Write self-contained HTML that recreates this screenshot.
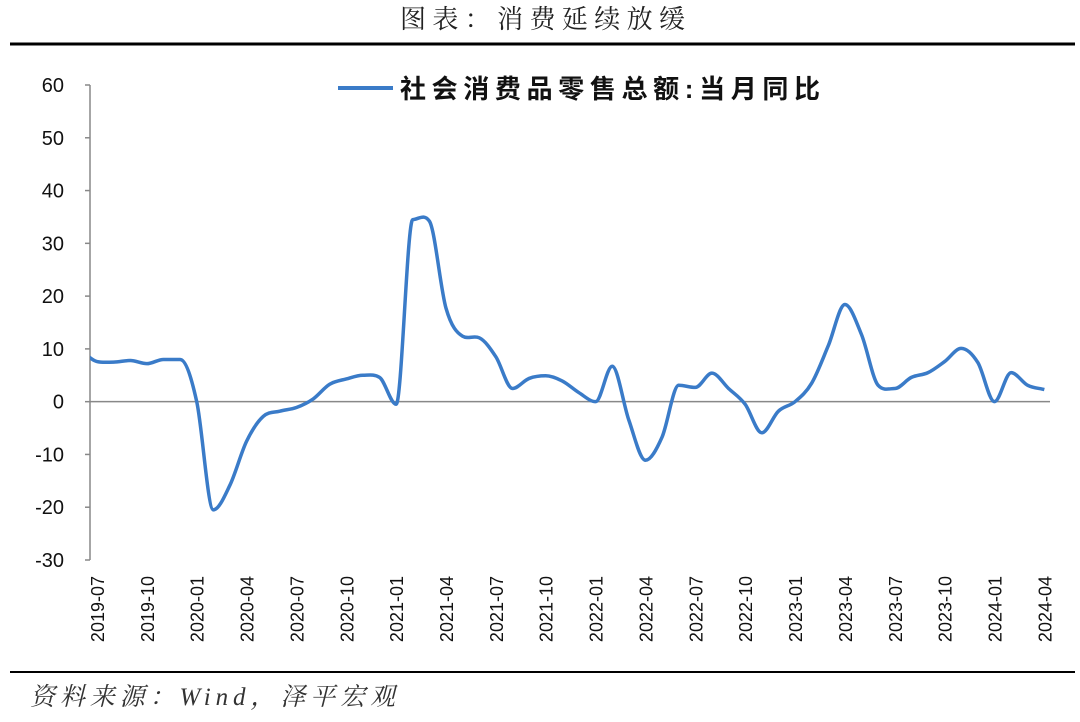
<!DOCTYPE html>
<html><head><meta charset="utf-8">
<style>
body{margin:0;background:#fff;width:1080px;height:717px;overflow:hidden;font-family:"Liberation Sans","Noto Sans CJK SC",sans-serif;}
</style></head>
<body>
<svg id="c" width="1080" height="717" xmlns="http://www.w3.org/2000/svg">
<text x="400" y="28" textLength="285" font-family="'Liberation Serif','Noto Serif CJK SC',serif" font-size="26" fill="#222">图表：消费延续放缓</text>
<line x1="10" y1="44" x2="1075" y2="44" stroke="#000" stroke-width="3"/>
<line x1="10" y1="672" x2="1075" y2="672" stroke="#000" stroke-width="2"/>
<text x="30" y="705" textLength="365" font-family="'Liberation Serif','Noto Serif CJK SC',serif" font-style="italic" font-size="25" fill="#333">资料来源：Wind，泽平宏观</text>
<line x1="338" y1="88" x2="393" y2="88" stroke="#3a7bc8" stroke-width="4"/>
<text x="400" y="98" textLength="420" font-size="26" font-weight="bold" fill="#111" font-family="'Liberation Sans','Noto Sans CJK SC',sans-serif">社会消费品零售总额:当月同比</text>
<g id="axes"></g>
<g id="plot"></g>
</svg>
<script>
const months=["2019-06","2019-07","2019-08","2019-09","2019-10","2019-11","2019-12","2020-01","2020-02","2020-03","2020-04","2020-05","2020-06","2020-07","2020-08","2020-09","2020-10","2020-11","2020-12","2021-01","2021-02","2021-03","2021-04","2021-05","2021-06","2021-07","2021-08","2021-09","2021-10","2021-11","2021-12","2022-01","2022-02","2022-03","2022-04","2022-05","2022-06","2022-07","2022-08","2022-09","2022-10","2022-11","2022-12","2023-01","2023-02","2023-03","2023-04","2023-05","2023-06","2023-07","2023-08","2023-09","2023-10","2023-11","2023-12","2024-01","2024-02","2024-03","2024-04"];
const values=[9.8,7.6,7.5,7.8,7.2,8.0,8.0,0,-20.5,-15.8,-7.5,-2.8,-1.8,-1.1,0.5,3.3,4.3,5.0,4.6,-0.5,34.5,34.2,17.7,12.4,12.1,8.5,2.5,4.4,4.9,3.9,1.7,0,6.7,-3.5,-11.1,-6.7,3.1,2.7,5.4,2.5,-0.5,-5.9,-1.8,0,3.5,10.6,18.4,12.7,3.1,2.5,4.6,5.5,7.6,10.1,7.4,0,5.5,3.1,2.3];
const yTicks=[60,50,40,30,20,10,0,-10,-20,-30];
const xLabels=["2019-07","2019-10","2020-01","2020-04","2020-07","2020-10","2021-01","2021-04","2021-07","2021-10","2022-01","2022-04","2022-07","2022-10","2023-01","2023-04","2023-07","2023-10","2024-01","2024-04"];
const NS="http://www.w3.org/2000/svg";
const X0=90,X1=1050,Y60=85,Ym30=560;
const y=v=>Y60+(60-v)*(Ym30-Y60)/90;
const x=i=>97+(i-1)*16.62;
const ax=document.getElementById('axes'),pl=document.getElementById('plot');
function mk(t,a,p){const e=document.createElementNS(NS,t);for(const k in a)e.setAttribute(k,a[k]);p.appendChild(e);return e;}
const ya=mk('line',{x1:X0,y1:Y60,x2:X0,y2:Ym30,stroke:'#888','stroke-width':1.5},ax);


yTicks.forEach(v=>{
 const t=mk('line',{x1:X0-5,y1:y(v),x2:X0,y2:y(v),stroke:'#888','stroke-width':1.5},ax);
 
 
 const l=mk('text',{x:64,y:y(v)+7,'text-anchor':'end','font-size':20,fill:'#111'},ax);
 l.textContent=v;
 
 
});
const xa=mk('line',{x1:X0,y1:y(0),x2:X1,y2:y(0),stroke:'#888','stroke-width':1.5},ax);


xLabels.forEach(m=>{
 const i=months.indexOf(m);const px=x(i);
 const l=mk('text',{x:0,y:0,'text-anchor':'end','font-size':18,fill:'#111',transform:`translate(${px+7},576) rotate(-90)`},ax);
 l.textContent=m;
 
 
});
const cp=mk('clipPath',{id:'clp'},pl);mk('rect',{x:X0,y:40,width:X1-X0+10,height:600},cp);
const pts=values.map((v,i)=>[x(i),y(v)]);
// monotone cubic tangents (avoid overshoot)
const n=pts.length,h=16.62;
const dl=[];for(let i=0;i<n-1;i++)dl.push((pts[i+1][1]-pts[i][1])/h);
const m=[];for(let i=0;i<n;i++){
 if(i===0)m.push(dl[0]);else if(i===n-1)m.push(dl[n-2]);
 else{const a=dl[i-1],b=dl[i];m.push(a*b<=0?0:(a+b)/2*Math.min(1,3*Math.min(Math.abs(a),Math.abs(b))/Math.abs((a+b)/2)*0.5+0.5));}
}
let d=`M${pts[0][0]},${pts[0][1]}`;
for(let i=0;i<n-1;i++){
 const p1=pts[i],p2=pts[i+1];
 d+=` C${p1[0]+h/3},${p1[1]+m[i]*h/3} ${p2[0]-h/3},${p2[1]-m[i+1]*h/3} ${p2[0]},${p2[1]}`;
}
const ln=mk('path',{d:d,fill:'none',stroke:'#3a7bc8','stroke-width':3.5,'clip-path':'url(#clp)','stroke-linejoin':'round'},pl);


</script>
</body></html>
